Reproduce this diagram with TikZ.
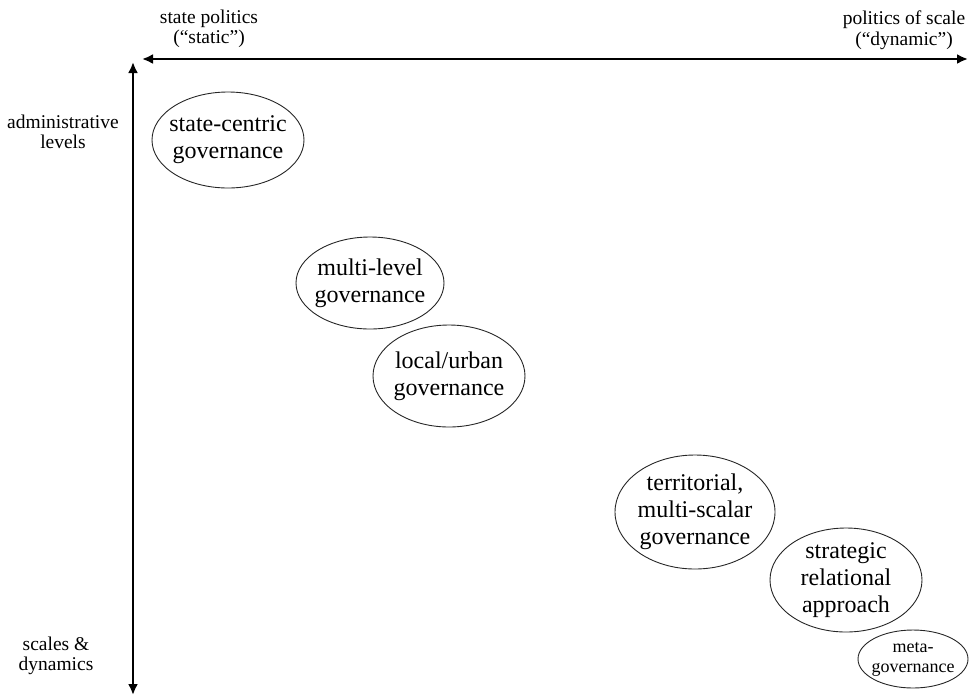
\documentclass[tikz,border=0pt]{standalone}
\usepackage{fontspec}
\setmainfont{Liberation Serif}
\usetikzlibrary{arrows.meta}
\begin{document}
\begin{tikzpicture}[x=1pt,y=-1pt,
  axis/.style={line width=2.7pt,{Latex[length=11pt,width=10pt]}-{Latex[length=11pt,width=10pt]}},
  axislabel/.style={align=center,inner sep=0pt,font=\fontsize{19.5}{20.5}\selectfont},
  approach/.style={align=center,inner sep=0pt,font=\fontsize{24}{27}\selectfont},
  small/.style={approach,font=\fontsize{18}{20}\selectfont},
  rim/.style={draw=black!85,line width=0.9pt}]
\useasboundingbox (0,0) rectangle (969,697);
% axes
\coordinate (hl) at (142,59);
\coordinate (hr) at (968,59);
\coordinate (vt) at (133,62);
\coordinate (vb) at (133,695);
\draw[axis] (hl) -- (hr);
\draw[axis] (vt) -- (vb);
% axis labels
\node[axislabel] (static) at (209,29) {state politics\\(``static'')};
\node[axislabel] (dynamic) at (904,30) {politics of scale\\(``dynamic'')};
\node[axislabel] (admin) at (63,132) {administrative\\levels};
\node[axislabel] (scales) at (56,656) {scales \&\\dynamics};
% approaches, each text inside its own ellipse
\node[approach] (state) at (228,140) {state-centric\\governance};
\node[approach] (multi) at (370,283) {multi-level\\governance};
\node[approach] (local) at (449,376) {local/urban\\governance};
\node[approach] (terr) at (695,512) {territorial,\\multi-scalar\\governance};
\node[approach] (strat) at (846,580) {strategic\\relational\\approach};
\node[small] (meta) at (913,659) {meta-\\governance};
\draw[rim] (state) ellipse [x radius=76, y radius=48];
\draw[rim] (multi) ellipse [x radius=74, y radius=46];
\draw[rim] (local) ellipse [x radius=76, y radius=51];
\draw[rim] (terr) ellipse [x radius=80, y radius=57];
\draw[rim] (strat) ellipse [x radius=76, y radius=52];
\draw[rim] (meta) ellipse [x radius=55, y radius=29];
\end{tikzpicture}
\end{document}
